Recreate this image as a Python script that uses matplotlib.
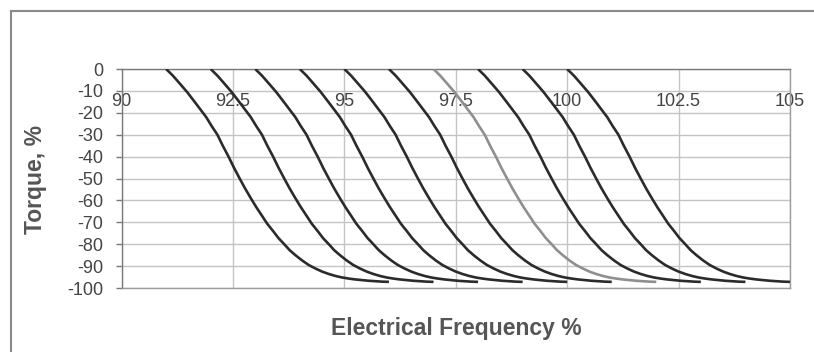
import matplotlib
matplotlib.use("Agg")
import matplotlib.pyplot as plt
from matplotlib.lines import Line2D

# Data
start_freqs = [91, 92, 93, 94, 95, 96, 97, 98, 99, 100]   # frequency where torque = 0
freq_offsets = [0, 0.15, 0.3, 0.47, 0.64, 0.77, 0.9, 1.02, 1.15, 1.27, 1.4,
                1.52, 1.65, 1.77, 1.9, 2.02, 2.15, 2.27, 2.4, 2.52, 2.65, 2.77,
                2.9, 3.05, 3.2, 3.35, 3.5, 3.65, 3.8, 3.95, 4.1, 4.25, 4.4,
                4.55, 4.7, 4.85, 5.0]
torque_profile = [0, -3, -6.5, -10.5, -15, -18.5, -22, -26, -30, -35, -40,
                  -45, -50, -54.5, -59, -63, -67, -70.7, -74, -77.2, -80, -82.7,
                  -85, -87.4, -89.5, -91.1, -92.5, -93.6, -94.5, -95.2, -95.7,
                  -96.1, -96.4, -96.7, -96.9, -97.1, -97.2]
highlight_index = 6   # the lighter curve
x_ticks = [90, 92.5, 95, 97.5, 100, 102.5, 105]
x_tick_labels = ["90", "92.5", "95", "97.5", "100", "102.5", "105"]
y_ticks = [0, -10, -20, -30, -40, -50, -60, -70, -80, -90, -100]

plt.rcParams['font.family'] = ['Liberation Sans', 'DejaVu Sans']

fig = plt.figure(figsize=(8.14, 3.52), dpi=100)
ax = fig.add_axes([0.1494, 0.1818, 0.8211, 0.622])

for i, f0 in enumerate(start_freqs):
    xs = [f0 + d for d in freq_offsets]
    color = '#8f8f8f' if i == highlight_index else '#2b2b2b'
    ax.plot(xs, torque_profile, color=color, lw=1.9, solid_capstyle='butt',
            solid_joinstyle='round', zorder=3)

ax.set_xlim(90, 105)
ax.set_ylim(-100, 0)
ax.set_xticks(x_ticks)
ax.set_xticklabels(x_tick_labels)
ax.set_yticks(y_ticks)
ax.set_yticklabels([str(v) for v in y_ticks])

ax.grid(True, color='#c4c4c4', lw=1.0, zorder=0)
ax.set_axisbelow(True)

for s in ax.spines.values():
    s.set_color('#9a9a9a')
    s.set_linewidth(1.0)
ax.spines['top'].set_color('#7a7a7a')
ax.spines['left'].set_color('#7a7a7a')

ax.tick_params(axis='x', which='both', top=True, bottom=False, labeltop=True,
               labelbottom=False, length=0, pad=-29.5, labelsize=13,
               labelcolor='#444444')
ax.tick_params(axis='y', direction='out', length=4, width=1, color='#7a7a7a',
               pad=9, labelsize=13, labelcolor='#444444')

fig.text(0.043, 0.49, "Torque, %", rotation=90, fontsize=16.5, fontweight='bold',
         color='#555555', ha='center', va='center')
fig.text(0.56, 0.068, "Electrical Frequency %", fontsize=16.5, fontweight='bold',
         color='#555555', ha='center', va='center')

# outer chart frame (top and left edges)
fig.add_artist(Line2D([0.0135, 1.0], [0.969, 0.969], color='#8a8a8a', lw=1.5,
                      transform=fig.transFigure))
fig.add_artist(Line2D([0.0135, 0.0135], [0.0, 0.969], color='#8a8a8a', lw=1.5,
                      transform=fig.transFigure))

fig.savefig("out.png", dpi=100)
